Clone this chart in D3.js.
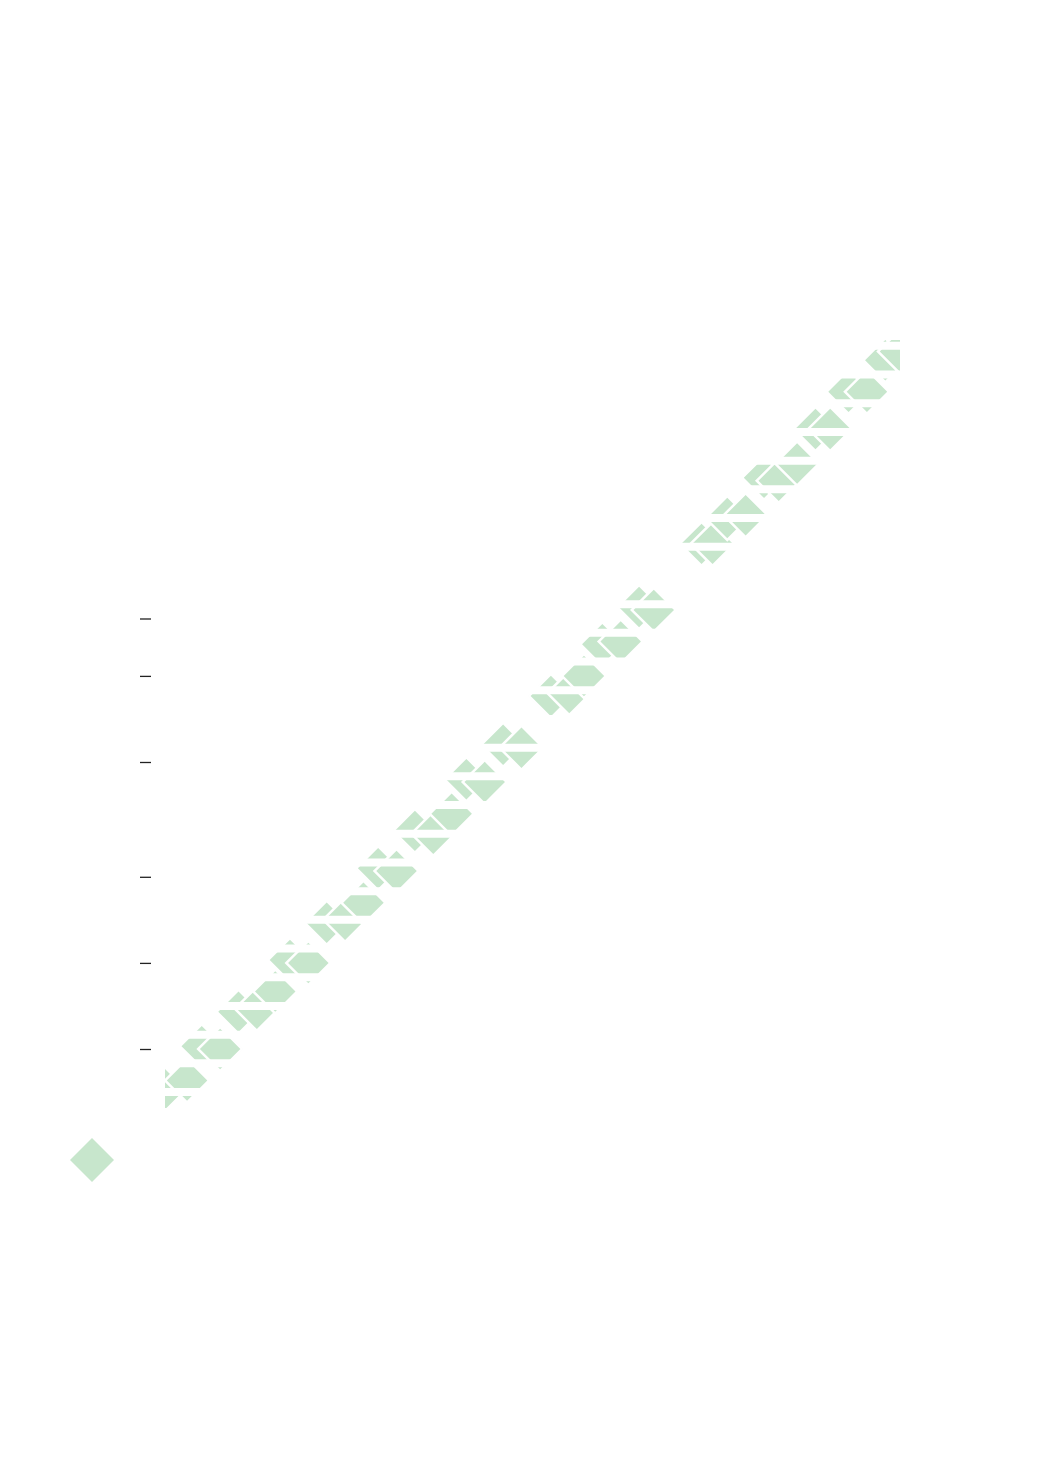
<!DOCTYPE html>
<html>
<head>
<meta charset="utf-8">
<script src="https://cdn.jsdelivr.net/npm/d3@7"></script>
<style>
  body { margin: 0; background: #fff; }
</style>
</head>
<body>
<svg id="chart"></svg>
<script>
// values
const xValues = [0, 3, 5, 7.5, 10, 12.5, 15, 17, 19.5, 22, 24.5, 27, 29, 31.5, 34, 36.5, 39, 41, 43.5, 46, 48.5, 52.5, 55, 57, 59.5, 62, 64.5, 66.5, 73, 74.5, 76.5, 79, 81.5, 83.5, 86, 88.5, 90.5, 93, 95.5, 98, 100];
const yValues = [-1.4, -1.1, 0.1, 0.0, 1.3, 1.4, 2.0, 3.1, 3.0, 4.4, 4.5, 5.1, 6.3, 6.2, 7.6, 7.5, 8.2, 9.4, 9.3, 10.6, 10.5, 12.3, 12.4, 13.0, 14.1, 14.2, 15.4, 15.3, 17.6, 17.6, 18.5, 18.6, 19.9, 19.8, 20.4, 21.6, 21.6, 22.9, 22.9, 24.0, 24.3];
const yTicks = [0, 3, 6, 10, 13, 15];
const gridValues = d3.range(-1.5, 25, 1);

const w = 1040;
const h = 1471;
const green = '#c7e6cc';

const svg = d3.select('#chart')
    .attr('width', w)
    .attr('height', h);

// scales
const xScale = d3.scaleLinear()
    .domain([0, 100])
    .range([165, 900]);

const yScale = d3.scaleLinear()
    .domain([-2, 24.7])
    .range([1106.4, 340.1]);

// clip to the plot area
svg.append('clipPath')
    .attr('id', 'plot-clip')
  .append('rect')
    .attr('x', 165)
    .attr('y', 340)
    .attr('width', 735)
    .attr('height', 768);

// y axis: ticks only
const yAxis = d3.axisLeft(yScale)
    .tickValues(yTicks)
    .tickSize(11)
    .tickFormat('');

svg.append('g')
    .attr('transform', 'translate(151,0)')
    .call(yAxis)
    .call(g => g.select('.domain').remove())
    .call(g => g.selectAll('line').attr('stroke', '#222').attr('stroke-width', 1.3));

const plot = svg.append('g')
    .attr('clip-path', 'url(#plot-clip)');

const points = xValues.map((x, i) => ({ x, y: yValues[i] }));

const diamond = d3.symbol().type(d3.symbolSquare).size(968);

plot.selectAll('.pt')
    .data(points)
    .join('path')
      .attr('class', 'pt')
      .attr('d', diamond)
      .attr('transform', d => `translate(${xScale(d.x)},${yScale(d.y)}) rotate(45)`)
      .attr('fill', green)
      .attr('stroke', '#fff')
      .attr('stroke-width', 2.5);

// white grid lines over the marks
plot.selectAll('.grid')
    .data(gridValues)
    .join('line')
      .attr('class', 'grid')
      .attr('x1', 165)
      .attr('x2', 900)
      .attr('y1', d => yScale(d))
      .attr('y2', d => yScale(d))
      .attr('stroke', '#fff')
      .attr('stroke-width', 8);

// legend swatch
svg.append('path')
    .attr('d', diamond)
    .attr('transform', 'translate(92,1160) rotate(45)')
    .attr('fill', green);
</script>
</body>
</html>
